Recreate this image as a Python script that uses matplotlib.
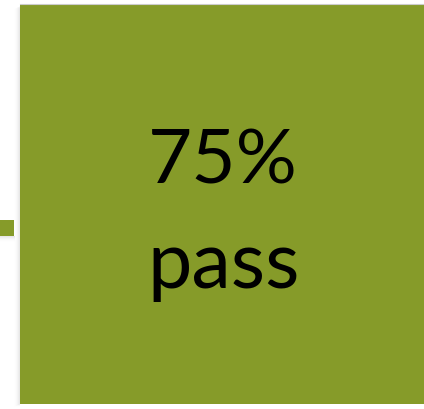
import matplotlib
matplotlib.use('Agg')
import matplotlib.pyplot as plt
from matplotlib.patches import Rectangle

# data
labels = ['pass']
values = [75]

GREEN = '#869B29'

fig = plt.figure(figsize=(4.24, 4.10), dpi=100)
fig.patch.set_facecolor('white')
ax = fig.add_axes([0, 0, 1, 1])
ax.set_xlim(0, 424)
ax.set_ylim(410, 0)
ax.axis('off')

# soft shadows
for i in range(6):
    a = 0.05 * (6 - i) / 6
    ax.add_patch(Rectangle((20 - i - 1, 7 + i * 0.5), i + 1, 398, color='gray', alpha=a, lw=0))
    ax.add_patch(Rectangle((0, 237), 15, i + 1, color='gray', alpha=a, lw=0))
ax.plot([20, 424], [5, 5], color='#cccccc', lw=0.8)

# connector stub and main box
ax.add_patch(Rectangle((0, 221), 14, 16, color=GREEN, lw=0))
ax.add_patch(Rectangle((20, 5), 404, 400, color=GREEN, lw=0))

ax.text(223, 184, f'{values[0]}%', ha='center', va='baseline',
        fontsize=55, family='Lato', color='black')
ax.text(224, 288, labels[0], ha='center', va='baseline',
        fontsize=57, family='Lato', color='black')

fig.savefig('out.png', dpi=100, facecolor='white')
